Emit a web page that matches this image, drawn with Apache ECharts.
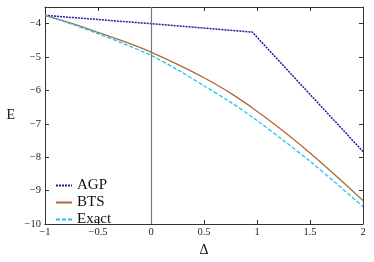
<!DOCTYPE html>
<html><head><meta charset="utf-8">
<script src="https://cdn.jsdelivr.net/npm/echarts@6/dist/echarts.min.js"></script>
<style>html,body{margin:0;padding:0;background:#fff}#c{width:374px;height:262px}</style>
</head><body><div id="c"></div>
<script>
var deltaGrid = [-1, -0.75, -0.5, -0.25, 0, 0.25, 0.5, 0.75, 1, 1.25, 1.5, 1.75, 2];
var btsValues = [-3.75, -3.99, -4.26, -4.54, -4.85, -5.22, -5.62, -6.08, -6.62, -7.22, -7.87, -8.57, -9.30];
var exactValues = [-3.75, -4.01, -4.30, -4.61, -4.95, -5.38, -5.86, -6.35, -6.90, -7.50, -8.12, -8.79, -9.48];
var agpDelta = [-1, 0, 0.955, 2];
var agpValues = [-3.75, -4.0, -4.25, -7.83];
var seriesNames = ['AGP', 'BTS', 'Exact'];

function pairs(xs, ys){ return xs.map(function(x,i){ return [x, ys[i]]; }); }
function fmt(v){
  if (Math.abs(v - Math.round(v*2)/2) > 1e-9) return '';
  var s = String(Math.abs(v));
  return (v < 0 ? '\u2212' : '') + s;
}
var font = 'Liberation Serif';
var chart = echarts.init(document.getElementById('c'), null, {renderer:'canvas'});
chart.setOption({
  animation:false,
  grid:{left:45, right:11, top:7, bottom:31},
  textStyle:{fontFamily:font},
  legend:{
    orient:'vertical', left:50, top:173, itemWidth:16, itemHeight:10, itemGap:2,
    textStyle:{fontFamily:font, fontSize:15, color:'#111', lineHeight:15},
    itemStyle:{color:'transparent', borderWidth:0, opacity:0},
    data:seriesNames
  },
  xAxis:[{
    type:'value', min:-1, max:2, interval:0.5,
    name:'\u0394', nameLocation:'middle', nameGap:19,
    nameTextStyle:{fontFamily:font, fontSize:14, color:'#111'},
    axisLine:{onZero:false, lineStyle:{color:'#333', width:1}},
    axisTick:{inside:true, length:4, lineStyle:{color:'#333'}},
    axisLabel:{fontFamily:font, fontSize:10.5, color:'#222', margin:3, formatter:fmt},
    splitLine:{show:false}
  },{
    type:'value', min:-1, max:2, interval:0.5, position:'top',
    axisLine:{onZero:false, lineStyle:{color:'#333', width:1}},
    axisTick:{inside:true, length:4, lineStyle:{color:'#333'}},
    axisLabel:{show:false}, splitLine:{show:false}
  }],
  yAxis:[{
    type:'value', min:-10, max:-3.5, interval:1,
    name:'E', nameLocation:'middle', nameGap:30, nameRotate:0,
    nameTextStyle:{fontFamily:font, fontSize:14, color:'#111'},
    axisLine:{onZero:false, lineStyle:{color:'#333', width:1}},
    axisTick:{inside:true, length:4, lineStyle:{color:'#333'}},
    axisLabel:{fontFamily:font, fontSize:10.5, color:'#222', margin:4, formatter:function(v){ return Number.isInteger(v) ? fmt(v) : ''; }, showMaxLabel:false},
    splitLine:{show:false}
  },{
    type:'value', min:-10, max:-3.5, interval:1, position:'right',
    axisLine:{onZero:false, lineStyle:{color:'#333', width:1}},
    axisTick:{inside:true, length:4, lineStyle:{color:'#333'}},
    axisLabel:{show:false}, splitLine:{show:false}
  }],
  series:[
    {name:'AGP', type:'line', symbol:'none', data:pairs(agpDelta, agpValues),
     lineStyle:{color:'#1c1c9c', width:1.5, type:[2,1]}, itemStyle:{color:'#1c1c9c'},
     markLine:{silent:true, symbol:'none', label:{show:false}, lineStyle:{color:'#777', type:'solid', width:1.2}, data:[{xAxis:0}]}},
    {name:'BTS', type:'line', symbol:'none', smooth:0.3, data:pairs(deltaGrid, btsValues),
     lineStyle:{color:'#b0673a', width:1.3, type:'solid'}, itemStyle:{color:'#b0673a'}},
    {name:'Exact', type:'line', symbol:'none', smooth:0.3, data:pairs(deltaGrid, exactValues),
     lineStyle:{color:'#22c4f0', width:1.3, type:[4,2]}, itemStyle:{color:'#22c4f0'}}
  ]
});
</script></body></html>
